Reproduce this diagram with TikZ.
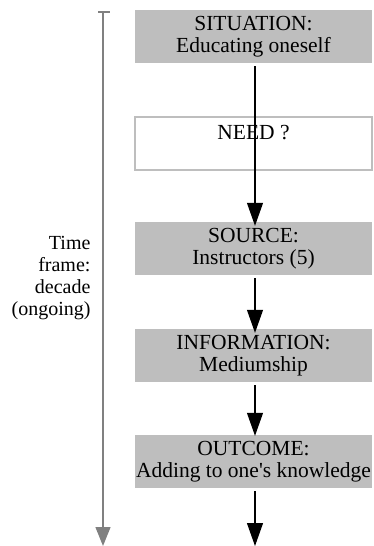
\documentclass[tikz,border=0pt]{standalone}
\usepackage{fontspec}
\setmainfont{Liberation Serif}
\usetikzlibrary{arrows.meta}
\definecolor{tl-box}{RGB}{190,190,190}
\definecolor{tl-axis}{RGB}{128,128,128}

\begin{document}
\begin{tikzpicture}[x=1pt,y=-1pt,
    stage/.style={fill=tl-box, minimum width=237pt, minimum height=53pt,
        inner sep=0pt, align=center, font=\fontsize{21.5}{22}\selectfont},
    blank/.style={stage, fill=white, draw=tl-box, line width=1.5pt},
    flow/.style={line width=1.1pt, -{Triangle[length=23pt,width=16pt]}}]
    \useasboundingbox (0,0) rectangle (373,546);

    \draw[tl-axis, line width=1.3pt] (98,12) -- (110,12);
    \draw[tl-axis, line width=1.3pt, -{Triangle[length=19pt,width=15pt]}] (103,12) -- (103,546);
    \node[anchor=east, align=right, font=\fontsize{20}{22}\selectfont] (frame) at (94,278)
        {Time\\frame:\\decade\\(ongoing)};

    \node[stage] (situation) at (253.5,36.5) {SITUATION:\\Educating oneself};
    \node[blank] (need) at (253.5,143.5) {NEED ?\\\mbox{}};
    \node[stage] (source) at (253.5,248.5) {SOURCE:\\Instructors (5)};
    \node[stage] (information) at (253.5,355.5) {INFORMATION:\\Mediumship};
    \node[stage] (outcome) at (253.5,461.5) {OUTCOME:\\Adding to one\textquotesingle s knowledge};
    \coordinate (end) at (255,546);

    \draw[flow, shorten <=3pt, shorten >=-4pt] ([xshift=1.5pt]situation.south) -- ([xshift=1.5pt]source.north);
    \draw[flow, shorten <=3pt, shorten >=-4pt] ([xshift=1.5pt]source.south) -- ([xshift=1.5pt]information.north);
    \draw[flow, shorten <=3pt, shorten >=-1pt] ([xshift=1.5pt]information.south) -- ([xshift=1.5pt]outcome.north);
    \draw[flow, shorten <=3pt] ([xshift=1.5pt]outcome.south) -- (end);
\end{tikzpicture}
\end{document}
